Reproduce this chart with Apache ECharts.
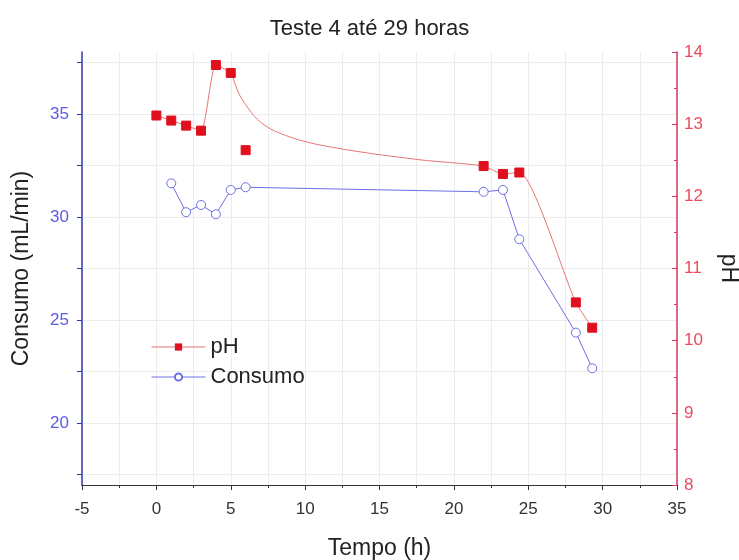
<!DOCTYPE html>
<html><head><meta charset="utf-8">
<script src="https://cdn.jsdelivr.net/npm/echarts@6/dist/echarts.min.js"></script>
<style>html,body{margin:0;padding:0;background:#fff}#c{width:739px;height:560px}</style>
</head><body><div id="c"></div>
<script>
// Data
const phTime = [0, 1, 2, 3, 4, 5, 6, 22, 23.3, 24.4, 28.2, 29.3];
const phValue = [13.12, 13.05, 12.98, 12.91, 13.82, 13.71, 12.64, 12.42, 12.31, 12.33, 10.53, 10.18];
const consumoTime = [1, 2, 3, 4, 5, 6, 22, 23.3, 24.4, 28.2, 29.3];
const consumoValue = [31.63, 30.23, 30.58, 30.13, 31.31, 31.44, 31.22, 31.31, 28.92, 24.39, 22.66];
// the fitted pH line (does not pass through the 6 h point)
const phCurveTime = [0, 1, 2, 3, 4, 5, 5.3, 5.6, 6.0, 6.5, 7.1, 7.8, 8.6, 9.6, 10.8, 12.5, 14.9, 18, 22, 23.3, 24.4, 28.2, 29.3];
const phCurveValue = [13.12, 13.05, 12.98, 12.91, 13.82, 13.71, 13.55, 13.40, 13.27, 13.13, 13.01, 12.92, 12.85, 12.78, 12.72, 12.655, 12.58, 12.50, 12.42, 12.31, 12.33, 10.53, 10.18];
const consumoTicks = [17.5, 20, 22.5, 25, 27.5, 30, 32.5, 35, 37.5];
const consumoLabels = [20, 25, 30, 35];

const FONT = 'Liberation Sans';
const zip = (a, b) => a.map((v, i) => [v, b[i]]);

const chart = echarts.init(document.getElementById('c'), null, {renderer: 'canvas'});
chart.setOption({
  backgroundColor: '#ffffff',
  animation: false,
  textStyle: {fontFamily: FONT},
  title: {
    text: 'Teste 4 até 29 horas', left: 'center', top: 13,
    textStyle: {fontFamily: FONT, fontSize: 22, fontWeight: 'normal', color: '#222'}
  },
  grid: {left: 82, right: 62, top: 52, bottom: 75, containLabel: false, outerBoundsMode: 'none'},
  legend: {
    orient: 'vertical', left: 146, top: 331, itemWidth: 54, itemHeight: 9, itemGap: 8,
    textStyle: {fontFamily: FONT, fontSize: 22, color: '#222'},
    data: [
      {name: 'pH', lineStyle: {opacity: 1, width: 1, color: '#e57373'}},
      {name: 'Consumo', lineStyle: {width: 1, color: '#6f6fe6'}}
    ]
  },
  xAxis: {
    type: 'value', min: -5, max: 35, interval: 5,
    name: 'Tempo (h)', nameLocation: 'middle', nameGap: 52,
    nameTextStyle: {fontFamily: FONT, fontSize: 23, color: '#222'},
    axisLine: {show: true, onZero: false, lineStyle: {color: '#333', width: 1}},
    axisTick: {show: true, length: 5, lineStyle: {color: '#333'}},
    minorTick: {show: true, splitNumber: 2, length: 3, lineStyle: {color: '#333'}},
    axisLabel: {fontFamily: FONT, fontSize: 17, color: '#333', margin: 16},
    splitLine: {show: true, lineStyle: {color: '#ececec', width: 1}},
    minorSplitLine: {show: true, lineStyle: {color: '#ececec', width: 1}}
  },
  yAxis: [
    {
      type: 'value', position: 'left', min: 17, max: 38,
      name: 'Consumo (mL/min)', nameLocation: 'middle', nameGap: 49,
      nameTextStyle: {fontFamily: FONT, fontSize: 23, color: '#222'},
      axisLine: {show: true, onZero: false, lineStyle: {color: '#3535a8', width: 1.5}},
      axisTick: {show: true, length: 5, customValues: consumoTicks, lineStyle: {color: '#3535a8'}},
      axisLabel: {fontFamily: FONT, fontSize: 17, color: '#5b5be6', margin: 13, customValues: consumoLabels},
      splitLine: {show: true, lineStyle: {color: '#ececec', width: 1}}
    },
    {
      type: 'value', position: 'right', min: 8, max: 14, interval: 1,
      name: 'pH', nameLocation: 'middle', nameGap: 40, nameRotate: -90,
      nameTextStyle: {fontFamily: FONT, fontSize: 23, color: '#222'},
      axisLine: {show: true, onZero: false, lineStyle: {color: '#d23a5c', width: 1.5}},
      axisTick: {show: true, inside: true, length: 5, lineStyle: {color: '#d23a5c'}},
      minorTick: {show: true, splitNumber: 2, length: 3, lineStyle: {color: '#d23a5c'}},
      axisLabel: {fontFamily: FONT, fontSize: 17, color: '#ec4a5e', margin: 7},
      splitLine: {show: false}
    }
  ],
  series: [
    {
      name: 'pH curve', type: 'line', yAxisIndex: 1, data: zip(phCurveTime, phCurveValue),
      showSymbol: false, symbol: 'none', smooth: 0.2, z: 2,
      lineStyle: {color: '#e57373', width: 1}, silent: true
    },
    {
      name: 'Consumo', type: 'line', yAxisIndex: 0, data: zip(consumoTime, consumoValue),
      symbol: 'circle', symbolSize: 9, z: 3,
      lineStyle: {color: '#6f6fe6', width: 1},
      itemStyle: {color: '#ffffff', borderColor: '#6f6fe6', borderWidth: 1}
    },
    {
      name: 'pH', type: 'line', yAxisIndex: 1, data: zip(phTime, phValue),
      symbol: 'rect', symbolSize: 9, z: 4,
      lineStyle: {color: '#e57373', width: 1, opacity: 0},
      itemStyle: {color: '#e0101e', borderColor: '#e0101e'}
    }
  ]
});
</script></body></html>
